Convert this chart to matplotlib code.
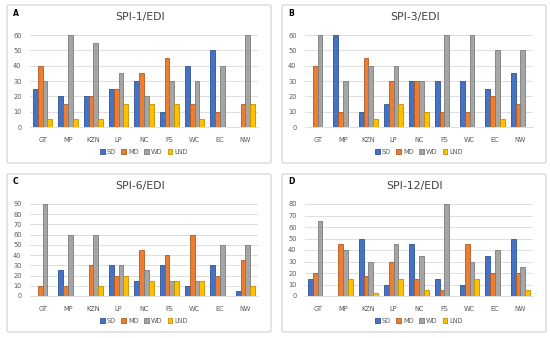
import numpy as np
import matplotlib
matplotlib.use('Agg')
import matplotlib.pyplot as plt
from matplotlib.patches import FancyBboxPatch

# Provincias
provincias = ['GT', 'MP', 'KZN', 'LP', 'NC', 'FS', 'WC', 'EC', 'NW']
series = ['SD', 'MD', 'WD', 'LND']
colores = ['#4472C4', '#ED7D31', '#A5A5A5', '#FFC000']
bordes = ['#2F528F', '#AE5A21', '#7B7B7B', '#BF9000']

# SPI-1/EDI
spi1_sd = [25, 20, 20, 25, 30, 10, 40, 50, 0]
spi1_md = [40, 15, 20, 25, 35, 45, 15, 10, 15]
spi1_wd = [30, 60, 55, 35, 20, 30, 30, 40, 60]
spi1_lnd = [5, 5, 5, 15, 15, 15, 5, 0, 15]

# SPI-3/EDI
spi3_sd = [0, 60, 10, 15, 30, 30, 30, 25, 35]
spi3_md = [40, 10, 45, 30, 30, 10, 10, 20, 15]
spi3_wd = [60, 30, 40, 40, 30, 60, 60, 50, 50]
spi3_lnd = [0, 0, 5, 15, 10, 0, 0, 5, 0]

# SPI-6/EDI
spi6_sd = [0, 25, 0, 30, 15, 30, 10, 30, 5]
spi6_md = [10, 10, 30, 20, 45, 40, 60, 20, 35]
spi6_wd = [90, 60, 60, 30, 25, 15, 15, 50, 50]
spi6_lnd = [0, 0, 10, 20, 15, 15, 15, 0, 10]

# SPI-12/EDI
spi12_sd = [15, 0, 50, 10, 45, 15, 10, 35, 50]
spi12_md = [20, 45, 17, 30, 15, 5, 45, 20, 20]
spi12_wd = [65, 40, 30, 45, 35, 80, 30, 40, 25]
spi12_lnd = [0, 15, 3, 15, 5, 0, 15, 0, 5]

paneles = [
    ('A', 'SPI-1/EDI', [spi1_sd, spi1_md, spi1_wd, spi1_lnd], 60, 0, 0),
    ('B', 'SPI-3/EDI', [spi3_sd, spi3_md, spi3_wd, spi3_lnd], 60, 275, 0),
    ('C', 'SPI-6/EDI', [spi6_sd, spi6_md, spi6_wd, spi6_lnd], 90, 0, 169),
    ('D', 'SPI-12/EDI', [spi12_sd, spi12_md, spi12_wd, spi12_lnd], 80, 275, 169),
]

W, H = 550, 338
fig = plt.figure(figsize=(5.5, 3.38), dpi=100)
fig.patch.set_facecolor('white')

x = np.arange(len(provincias))
ancho = 0.19

for letra, titulo, datos, ymax, dx, dy in paneles:
    # Marco del panel
    caja = FancyBboxPatch(((7 + dx) / W, 1 - (163 + dy) / H), 264 / W, 158 / H,
                          boxstyle='round,pad=0,rounding_size=0.004',
                          transform=fig.transFigure, facecolor='white',
                          edgecolor='#D0D0D0', linewidth=0.8, zorder=-5)
    fig.patches.append(caja)

    ax = fig.add_axes([(30 + dx) / W, 1 - (127 + dy) / H, 228 / W, 92 / H])
    ax.set_facecolor('none')
    for i, vals in enumerate(datos):
        ax.bar(x + (i - 1.5) * ancho, vals, ancho, color=colores[i],
               edgecolor=bordes[i], linewidth=0.6, label=series[i], zorder=3)
    ax.set_xlim(-0.5, len(provincias) - 0.5)
    ax.set_ylim(0, ymax)
    ax.set_yticks(np.arange(0, ymax + 1, 10))
    ax.set_xticks(x)
    ax.set_xticklabels(provincias)
    ax.tick_params(axis='both', length=0, labelsize=4.8, colors='#595959')
    ax.tick_params(axis='x', pad=7)
    ax.tick_params(axis='y', pad=6)
    ax.grid(axis='y', color='#D9D9D9', linewidth=0.6, zorder=0)
    for lado in ['top', 'right', 'left']:
        ax.spines[lado].set_visible(False)
    ax.spines['bottom'].set_color('#D9D9D9')
    ax.spines['bottom'].set_linewidth(0.6)

    fig.text((13 + dx) / W, 1 - (13 + dy) / H, letra, fontsize=5.5,
             fontweight='bold', va='center', ha='left')
    fig.text((140 + dx) / W, 1 - (17 + dy) / H, titulo, fontsize=7.8,
             color='#404040', va='center', ha='center')

    ax.legend(loc='center', bbox_to_anchor=(0.5, -0.27), ncol=4, frameon=False,
              fontsize=4.8, handlelength=0.7, handleheight=0.7,
              handletextpad=0.3, columnspacing=0.8, labelcolor='#595959')

fig.savefig('out.png', dpi=100)
plt.close('all')
